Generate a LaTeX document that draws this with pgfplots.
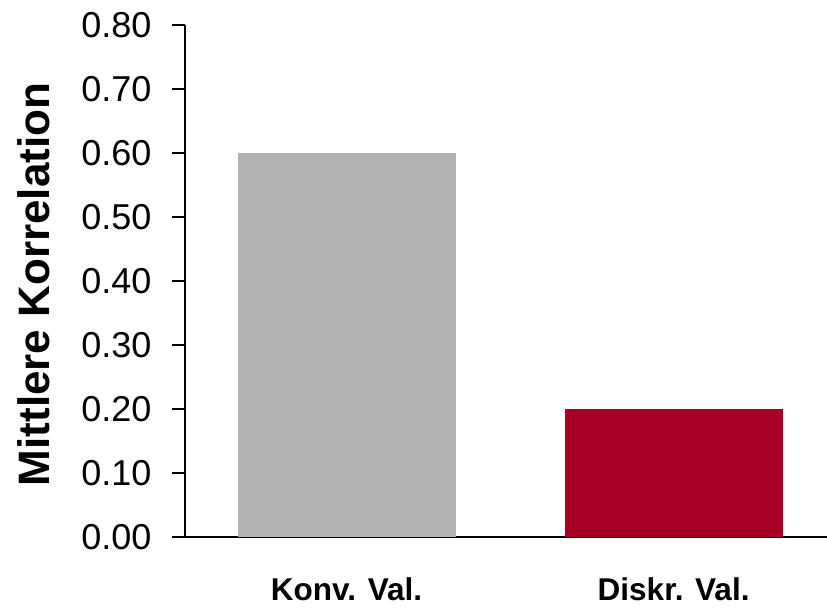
\documentclass[border=0pt]{standalone}
\usepackage{fontspec}
\setmainfont{Liberation Sans}
\usepackage{pgfplots}
\pgfplotsset{compat=1.18}
\definecolor{bargray}{RGB}{178,178,178}
\definecolor{barred}{RGB}{166,0,36}
\begin{document}
\begin{tikzpicture}
\begin{axis}[
  name=ax,
  scale only axis,
  width=642pt, height=512pt,
  xmin=-0.494, xmax=1.469,
  ymin=0, ymax=0.8,
  axis x line*=bottom,
  axis y line*=left,
  axis line style={line width=1.2pt, black},
  xtick={0,1},
  xticklabels={Konv. Val., Diskr. Val.},
  xtick style={draw=none},
  ytick={0,0.1,...,0.8},
  ytick style={line width=1.2pt, black},
  tick align=outside,
  major tick length=13pt,
  /pgf/number format/assume math mode=true,
  yticklabel={\pgfmathprintnumber[fixed,fixed zerofill,precision=2]{\tick}},
  yticklabel style={font=\fontsize{36}{40}\selectfont, anchor=east, xshift=-17pt},
  xticklabel style={font=\bfseries\fontsize{31.5}{36}\selectfont, anchor=north, yshift=-24pt},
  ylabel={Mittlere Korrelation},
  every axis y label/.style={at={(rel axis cs:-0.2352,0.4932)}, rotate=90, anchor=center, font=\bfseries\fontsize{44}{48}\selectfont},
  ybar,
  bar width=218pt,
  bar shift=0pt,
  clip=false,
]
\addplot[fill=bargray, draw=none, bar shift=0pt] coordinates {(0,0.60)};
\addplot[fill=barred, draw=none, bar shift=0pt] coordinates {(1,0.20)};
\end{axis}
\pgfresetboundingbox
\path[use as bounding box] ([xshift=-185pt,yshift=-74pt]ax.south west) rectangle ([yshift=25pt]ax.north east);
\end{tikzpicture}
\end{document}
